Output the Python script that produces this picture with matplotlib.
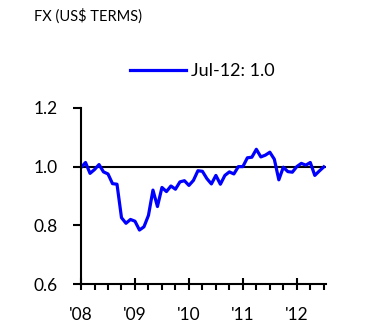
import numpy as np
import matplotlib.pyplot as plt
from matplotlib.ticker import FixedLocator, MultipleLocator

# monthly FX index, Jan 2008 - Jul 2012
fx = [0.997, 1.014, 0.977, 0.990, 1.007, 0.982, 0.975, 0.942, 0.940, 0.826,
      0.807, 0.820, 0.814, 0.784, 0.795, 0.834, 0.920, 0.864, 0.929, 0.915,
      0.934, 0.923, 0.948, 0.952, 0.936, 0.953, 0.986, 0.984, 0.959, 0.941,
      0.970, 0.940, 0.970, 0.982, 0.975, 1.000, 1.000, 1.030, 1.032, 1.059,
      1.033, 1.039, 1.049, 1.025, 0.955, 0.998, 0.983, 0.981, 1.000, 1.011,
      1.005, 1.014, 0.970, 0.985, 0.999]
years = [2008, 2009, 2010, 2011, 2012]
year_labels = ["'08", "'09", "'10", "'11", "'12"]
legend_label = "Jul-12: 1.0"

t = 2008 + np.arange(len(fx)) / 12.0

plt.rcParams['font.family'] = ['Lato', 'DejaVu Sans']

fig = plt.figure(figsize=(3.65, 3.33), dpi=100)
ax = fig.add_axes([0.222, 0.147, 0.671, 0.529])

ax.axhline(1.0, color='black', lw=1.5, zorder=1)
line, = ax.plot(t, fx, color='#0000ff', lw=2.3, zorder=2)

ax.set_xlim(2008, 2012.54)
ax.set_ylim(0.6, 1.2)
ax.set_yticks([0.6, 0.8, 1.0, 1.2])
ax.set_yticklabels(['0.6', '0.8', '1.0', '1.2'])
ax.xaxis.set_major_locator(FixedLocator(years))
ax.xaxis.set_minor_locator(MultipleLocator(0.25))
ax.set_xticklabels(year_labels)

for s in ['top', 'right']:
    ax.spines[s].set_visible(False)
for s in ['left', 'bottom']:
    ax.spines[s].set_linewidth(1.5)

ax.tick_params(axis='y', direction='out', length=6, width=1.5, labelsize=12.5, pad=11)
ax.tick_params(axis='x', which='major', direction='inout', length=9, width=1.5,
               labelsize=12.5, pad=12)
ax.tick_params(axis='x', which='minor', direction='out', length=4, width=1.5)

fig.text(0.093, 0.952, 'FX (US$ TERMS)', fontsize=10.5, ha='left', va='center')
fig.legend([line], [legend_label], loc='center left', bbox_to_anchor=(0.355, 0.787),
           frameon=False, fontsize=13, handlelength=3.1, handletextpad=0.3,
           borderpad=0, borderaxespad=0)

fig.savefig('out.png', dpi=100)
